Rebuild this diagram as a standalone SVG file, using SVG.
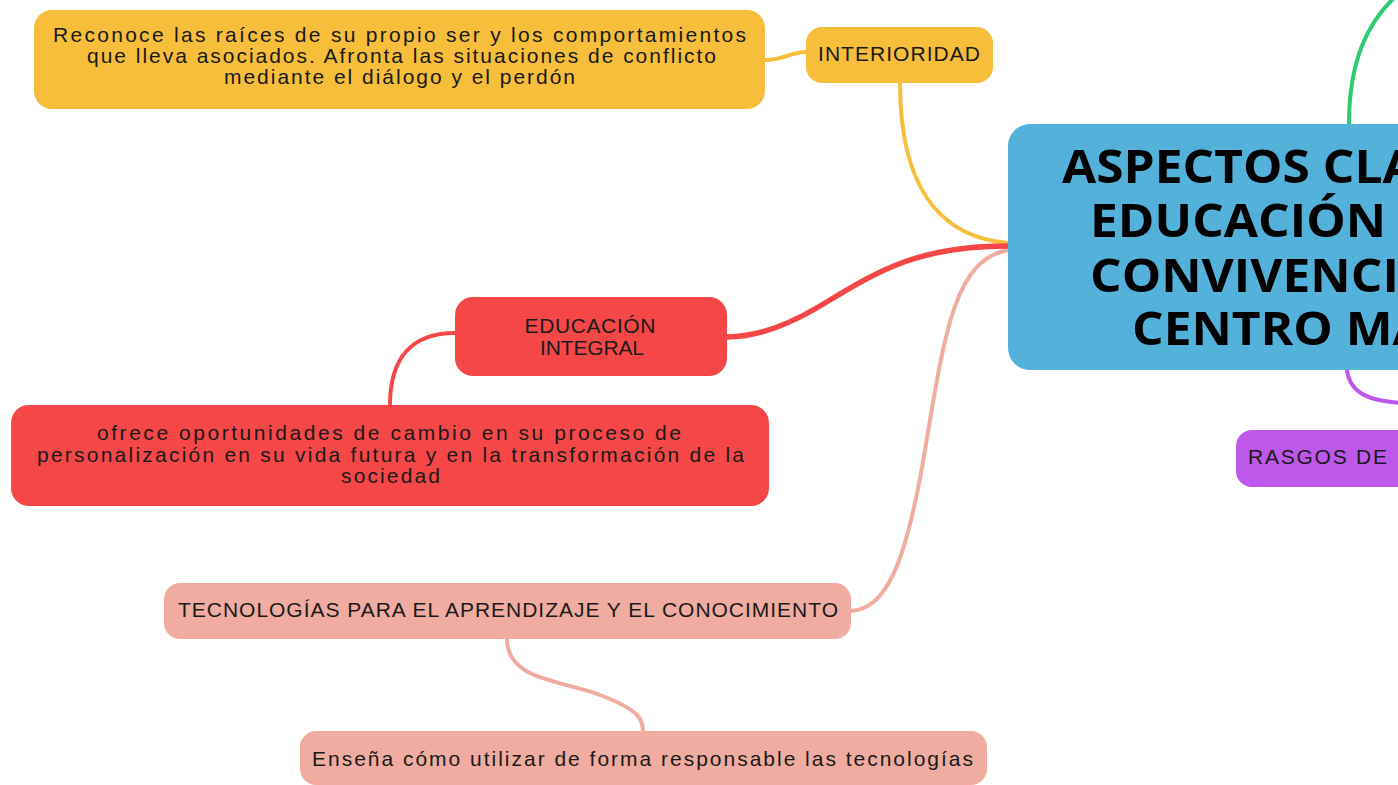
<svg xmlns="http://www.w3.org/2000/svg" width="1398" height="785" viewBox="0 0 1398 785">
<style>
.hand{font-family:"Liberation Sans","DejaVu Sans",sans-serif;font-size:21px;fill:#1a1a1a;text-anchor:middle}
.title{font-family:"Open Sans","Liberation Sans",sans-serif;font-weight:bold;font-size:47px;fill:#000}
.c{fill:none;stroke-linecap:round}
.y{fill:#f6be3b}.r{fill:#f54748}.p{fill:#f0aca0}.b{fill:#53b1da}.v{fill:#bd58ea}
</style>
<rect width="1398" height="785" fill="#fff"/>
<g id="connectors">
<path class="c" d="M1349,124 C1349,60 1368,22 1396,-4" stroke="#2ecc71" stroke-width="4"/>
<path class="c" d="M1347,370 C1350,395 1372,401 1402,403" stroke="#bd58ea" stroke-width="4"/>
<path class="c" d="M1008,243 C950,238 900,200 900,83" stroke="#f6be3b" stroke-width="4"/>
<path class="c" d="M765,60 C785,60 790,52 806,52" stroke="#f6be3b" stroke-width="4"/>
<path class="c" d="M1008,250 C955,260 945,330 925,450 C905,570 885,608 851,611" stroke="#f0aca0" stroke-width="4"/>
<path class="c" d="M1008,246 C920,246 880,270 830,300 C790,325 760,336 727,337" stroke="#f54748" stroke-width="5.5"/>
<path class="c" d="M455,333 C410,333 390,360 390,405" stroke="#f54748" stroke-width="4"/>
<path class="c" d="M507,639 C507,680 560,680 600,695 C640,710 643,720 643,731" stroke="#f0aca0" stroke-width="4"/>
</g>
<g id="central">
<rect class="b" x="1008" y="124" width="420" height="246" rx="22"/>
<g transform="translate(1008,0) scale(1.057,1) translate(-1008,0)">
<text class="title" x="1059.1" y="183">ASPECTOS CLAVE</text>
<text class="title" x="1085.6" y="237">EDUCACIÓN</text>
<text class="title" x="1085.6" y="292">CONVIVENCIA</text>
<text class="title" x="1125.3" y="345">CENTRO MARISTA</text>
</g>
</g>
<g id="interioridad">
<rect class="y" x="806" y="27" width="187" height="56" rx="16"/>
<text class="hand" x="899" y="61" textLength="162">INTERIORIDAD</text>
</g>
<g id="interioridad-detalle">
<rect class="y" x="34" y="10" width="731" height="99" rx="18"/>
<text class="hand" x="399.5" y="42" textLength="693">Reconoce las raíces de su propio ser y los comportamientos</text>
<text class="hand" x="401.5" y="63" textLength="629">que lleva asociados. Afronta las situaciones de conflicto</text>
<text class="hand" x="399.5" y="84" textLength="351">mediante el diálogo y el perdón</text>
</g>
<g id="educacion-integral">
<rect class="r" x="455" y="297" width="272" height="79" rx="18"/>
<text class="hand" x="590" y="333" textLength="131">EDUCACIÓN</text>
<text class="hand" x="592" y="355" textLength="104">INTEGRAL</text>
</g>
<g id="educacion-detalle">
<rect class="r" x="11" y="405" width="758" height="101" rx="18"/>
<text class="hand" x="389" y="440" textLength="584">ofrece oportunidades de cambio en su proceso de</text>
<text class="hand" x="390.5" y="462" textLength="707">personalización en su vida futura y en la transformación de la</text>
<text class="hand" x="390.5" y="483" textLength="99">sociedad</text>
</g>
<g id="tecnologias">
<rect class="p" x="164" y="583" width="687" height="56" rx="16"/>
<text class="hand" x="508" y="617" textLength="660">TECNOLOGÍAS PARA EL APRENDIZAJE Y EL CONOCIMIENTO</text>
</g>
<g id="tecnologias-detalle">
<rect class="p" x="300" y="731" width="687" height="54" rx="16"/>
<text class="hand" x="642.5" y="766" textLength="661">Enseña cómo utilizar de forma responsable las tecnologías</text>
</g>
<g id="rasgos">
<rect class="v" x="1236" y="430" width="200" height="57" rx="16"/>
<text class="hand" x="1248" y="464" style="text-anchor:start" textLength="139">RASGOS DE</text>
</g>
</svg>
